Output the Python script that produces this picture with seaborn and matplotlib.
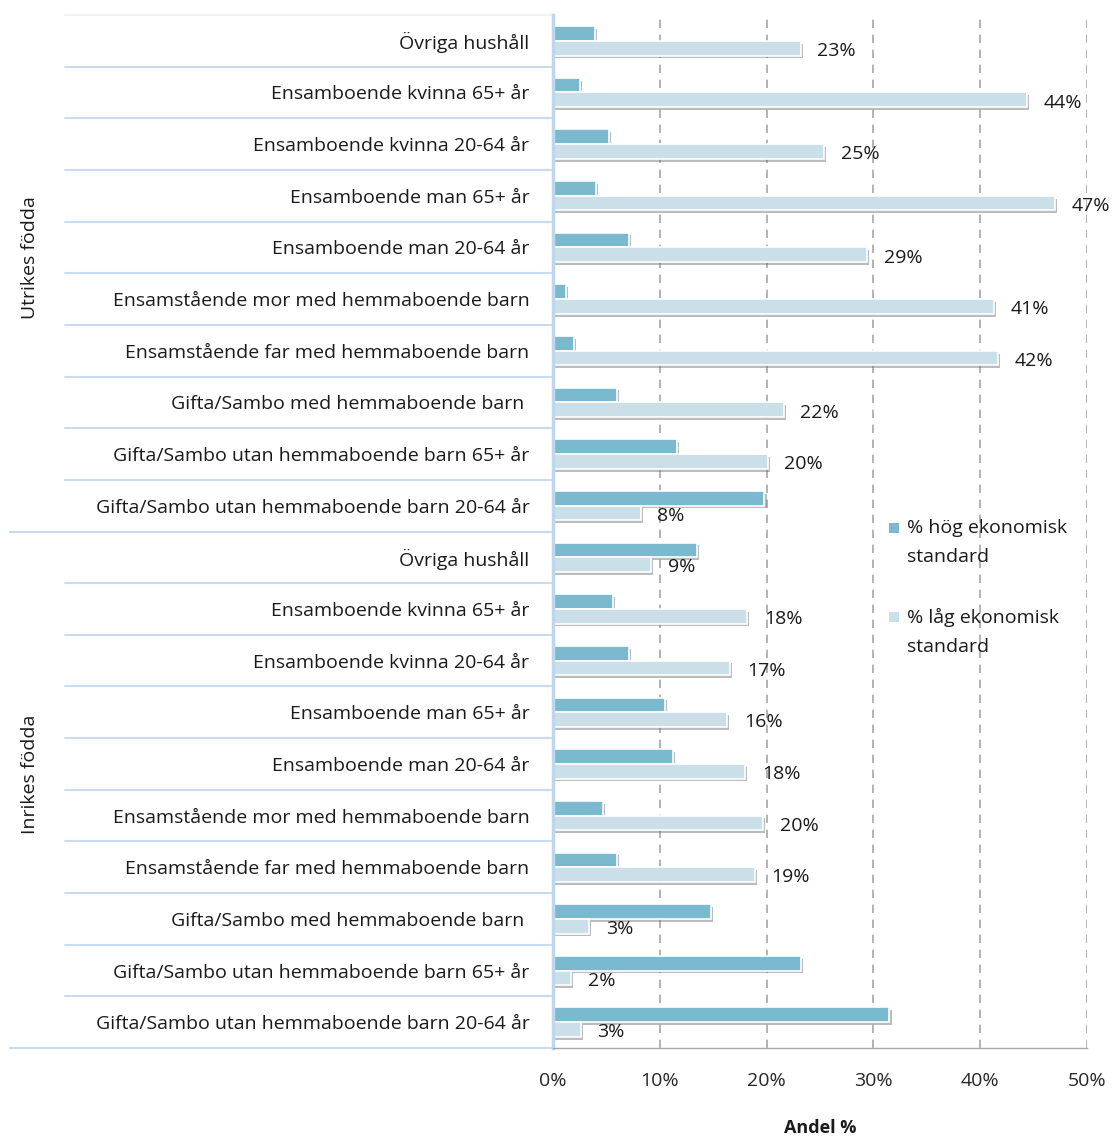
import matplotlib
matplotlib.use("Agg")
import matplotlib.pyplot as plt
import matplotlib.patheffects as pe
from matplotlib.patches import Rectangle
import pandas as pd
import seaborn as sns

hushall = ["Övriga hushåll",
           "Ensamboende kvinna 65+ år",
           "Ensamboende kvinna 20-64 år",
           "Ensamboende man 65+ år",
           "Ensamboende man 20-64 år",
           "Ensamstående mor med hemmaboende barn",
           "Ensamstående far med hemmaboende barn",
           "Gifta/Sambo med hemmaboende barn ",
           "Gifta/Sambo utan hemmaboende barn 65+ år",
           "Gifta/Sambo utan hemmaboende barn 20-64 år"]
grupper = ["Utrikes födda", "Inrikes födda"]
serier = ["% hög ekonomisk standard", "% låg ekonomisk standard"]
legend_text = ["% hög ekonomisk\nstandard", "% låg ekonomisk\nstandard"]

utrikes_hog = [3.9, 2.5, 5.2, 4.0, 7.1, 1.2, 2.0, 6.0, 11.6, 19.8]
utrikes_lag = [23.2, 44.4, 25.4, 47.0, 29.4, 41.3, 41.7, 21.6, 20.1, 8.2]
inrikes_hog = [13.5, 5.6, 7.1, 10.5, 11.2, 4.7, 6.0, 14.8, 23.2, 31.5]
inrikes_lag = [9.2, 18.2, 16.6, 16.3, 18.0, 19.7, 18.9, 3.4, 1.7, 2.6]

x_ticks = [0, 10, 20, 30, 40, 50]

c_hog = "#7bb9ce"
c_lag = "#cadfe8"
textfarg = "#1a1a1a"

rows = []
for grupp, hog, lag in [(grupper[0], utrikes_hog, utrikes_lag),
                        (grupper[1], inrikes_hog, inrikes_lag)]:
    for h, vh, vl in zip(hushall, hog, lag):
        rows.append({"kat": f"{grupp}|{h}", "serie": serier[0], "andel": vh})
        rows.append({"kat": f"{grupp}|{h}", "serie": serier[1], "andel": vl})
df = pd.DataFrame(rows)

sns.set_style("white")
plt.rcParams["font.family"] = ["Open Sans", "DejaVu Sans"]

W, H = 1114, 1137
fig = plt.figure(figsize=(W / 100, H / 100), dpi=100)
ax_l, ax_r, ax_t, ax_b = 553, 1087, 15, 1048
ax = fig.add_axes([ax_l / W, 1 - ax_b / H, (ax_r - ax_l) / W, (ax_b - ax_t) / H])

sns.barplot(data=df, x="andel", y="kat", hue="serie", hue_order=serier,
            palette=[c_hog, c_lag], saturation=1, width=0.57, orient="h",
            edgecolor="white", linewidth=1.2, legend=False, ax=ax)

shadow = [pe.SimplePatchShadow(offset=(1.5, -2), shadow_rgbFace="#7a7a7a", alpha=0.5),
          pe.Normal()]
for cont in ax.containers:
    for bar in cont:
        bar.set_path_effects(shadow)

# etiketter på låg-serien
for bar in ax.containers[1]:
    w = bar.get_width()
    ax.annotate(f"{w:.0f}%", xy=(w, bar.get_y() + bar.get_height() / 2),
                xytext=(12, -2), textcoords="offset points",
                ha="left", va="center", fontsize=14, color=textfarg)

ax.set_xlim(0, 50)
ax.set_ylim(19.5, -0.5)
ax.set_xticks(x_ticks)
ax.set_xticklabels([f"{v}%" for v in x_ticks], fontsize=14, color="#262626")
ax.set_yticks(range(20))
ax.set_yticklabels(hushall * 2, fontsize=14, color=textfarg)
ax.tick_params(axis="y", length=0, pad=17)
ax.tick_params(axis="x", length=4, width=1, color="#a6a6a6", direction="out", pad=13)
ax.set_ylabel("")
ax.set_xlabel("Andel %", fontsize=13, fontweight="bold", labelpad=21, color=textfarg)

ax.xaxis.grid(True, linestyle=(0, (5, 4)), color="#a6a6a6", linewidth=1.2)
ax.yaxis.grid(False)
ax.set_axisbelow(True)
for s in ["top", "right"]:
    ax.spines[s].set_visible(False)
ax.spines["left"].set_color("#bdd7ee")
ax.spines["left"].set_linewidth(2.5)
ax.spines["bottom"].set_color("#a6a6a6")
ax.spines["bottom"].set_linewidth(1)

# kategoriavgränsare till vänster
tr = ax.get_yaxis_transform()
span = ax_r - ax_l
for i in range(21):
    yb = i - 0.5
    x0 = (10 - ax_l) / span if i in (10, 20) else (65 - ax_l) / span
    col = "#eef3f9" if i == 0 else "#c9dcef"
    ax.plot([x0, 0], [yb, yb], transform=tr, color=col, lw=1.5, clip_on=False)

for k, grupp in enumerate(grupper):
    ax.text((30 - ax_l) / span, 4.2 + 10 * k, grupp, transform=tr, rotation=90,
            ha="center", va="center", fontsize=14, color=textfarg)

# teckenförklaring
for k, (c, txt) in enumerate(zip([c_hog, c_lag], legend_text)):
    yc = 528 + 89 * k
    fig.patches.append(Rectangle((889 / W, 1 - (yc + 5) / H), 10 / W, 10 / H,
                                 transform=fig.transFigure, facecolor=c,
                                 edgecolor="none", figure=fig))
    fig.text(907 / W, 1 - (yc - 9) / H, txt, ha="left", va="top",
             fontsize=14, linespacing=1.75, color=textfarg)

fig.savefig("out.png", dpi=100)
